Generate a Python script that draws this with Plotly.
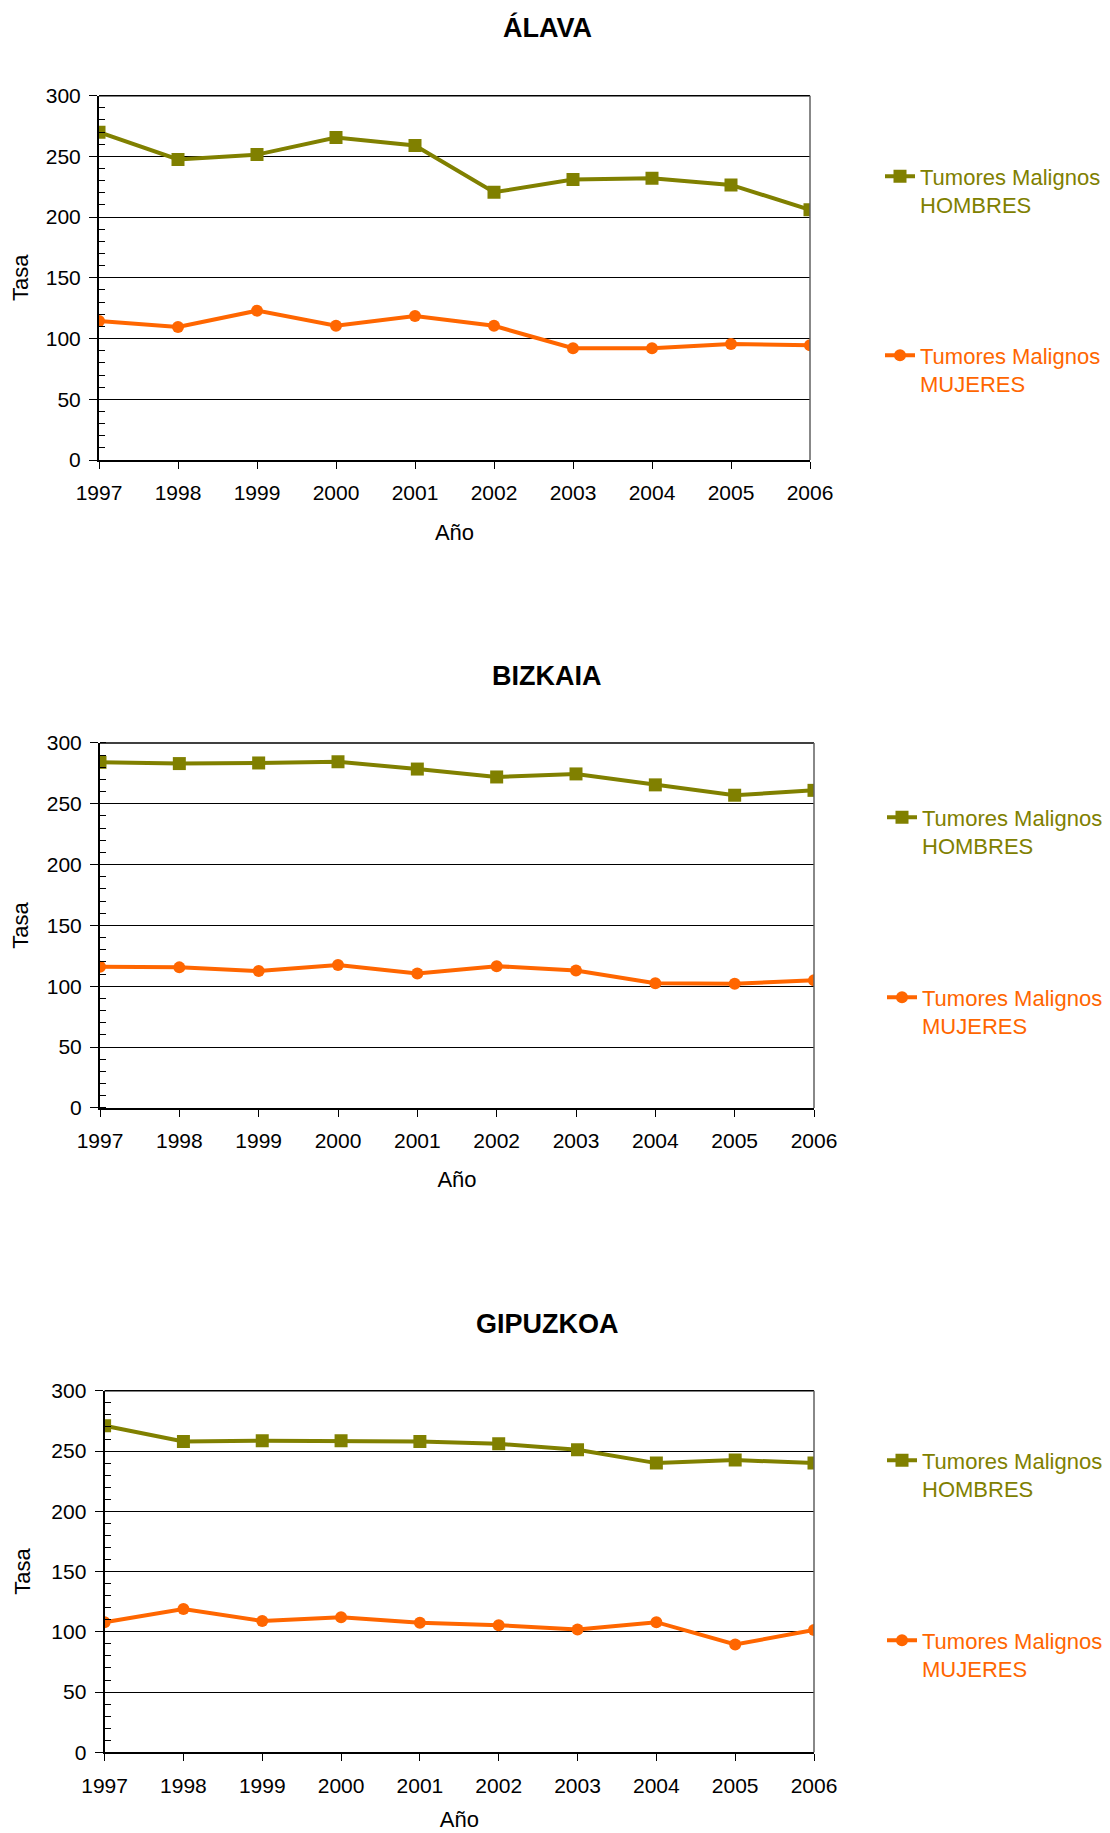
import plotly.graph_objects as go

# ---------------- data ----------------
years = [1997, 1998, 1999, 2000, 2001, 2002, 2003, 2004, 2005, 2006]
year_labels = ["1997", "1998", "1999", "2000", "2001", "2002", "2003", "2004", "2005", "2006"]

alava_hombres = [270, 247.5, 251.5, 265.5, 259, 220.5, 231, 232, 226.5, 206]
alava_mujeres = [114.5, 109.5, 123, 110.5, 118.5, 110.5, 92, 92, 95.5, 94.5]

bizkaia_hombres = [284, 283, 283.5, 284.5, 278.5, 272, 274.5, 265.5, 257, 261]
bizkaia_mujeres = [116, 115.5, 112.5, 117.5, 110.5, 116.5, 113, 102.5, 102, 105]

gipuzkoa_hombres = [271, 258, 258.5, 258.5, 258, 256, 251, 240, 242.5, 240]
gipuzkoa_mujeres = [108, 119, 109, 112, 107.5, 105.5, 102, 108, 89.5, 101.5]

titles = ["ÁLAVA", "BIZKAIA", "GIPUZKOA"]
name_h = "Tumores Malignos<br>HOMBRES"
name_m = "Tumores Malignos<br>MUJERES"
y_ticks = [0, 50, 100, 150, 200, 250, 300]

OLIVE = "#808000"
ORANGE = "#FF6600"
FONT = "Liberation Sans, Arial, sans-serif"

W, H = 1110, 1833
OFF = 8  # page body margin in the browser

# plot-area screen-pixel boxes (left, right, top, bottom)
boxes = [(99, 810, 95.7, 460.0),
         (100, 814, 742.9, 1107.9),
         (104.6, 814, 1390.8, 1752.3)]
title_y = [28, 676, 1324]
title_x = 547
legend_first_line = [(176, 355), (817, 997), (1460, 1640)]
legend_text_x = [920, 922, 922]
xtitle_standoff = [21, 21, 16]


def px_x(v):
    return (v - OFF) / W


def px_y(v):
    return 1 - (v - OFF) / H


series = [(alava_hombres, alava_mujeres),
          (bizkaia_hombres, bizkaia_mujeres),
          (gipuzkoa_hombres, gipuzkoa_mujeres)]

fig = go.Figure()
layout = dict(width=W, height=H, margin=dict(l=0, r=0, t=0, b=0),
              paper_bgcolor="white", plot_bgcolor="white", showlegend=True,
              font=dict(family=FONT, color="black"), annotations=[], shapes=[])

for i, ((h_vals, m_vals), box) in enumerate(zip(series, boxes)):
    sfx = "" if i == 0 else str(i + 1)
    xa, ya = "x" + sfx, "y" + sfx
    lg_h = "legend" if i == 0 else "legend" + str(2 * i + 1)
    lg_m = "legend" + str(2 * i + 2)

    fig.add_trace(go.Scatter(x=years, y=h_vals, name=name_h, mode="lines+markers",
                             line=dict(color=OLIVE, width=4),
                             marker=dict(symbol="square", size=13, color=OLIVE),
                             xaxis=xa, yaxis=ya, legend=lg_h, showlegend=True))
    fig.add_trace(go.Scatter(x=years, y=m_vals, name=name_m, mode="lines+markers",
                             line=dict(color=ORANGE, width=4),
                             marker=dict(symbol="circle", size=12, color=ORANGE),
                             xaxis=xa, yaxis=ya, legend=lg_m, showlegend=True))

    l, r, t, b = box
    layout["xaxis" + sfx] = dict(
        domain=[px_x(l), px_x(r)], anchor=ya, range=[1997, 2006],
        tickmode="array", tickvals=years, ticktext=year_labels,
        ticks="outside", ticklen=7, tickcolor="black", tickwidth=1,
        showline=True, linecolor="black", linewidth=2, showgrid=False,
        zeroline=False, automargin=False, ticklabelstandoff=6,
        tickfont=dict(family=FONT, size=21, color="black"),
        title=dict(text="Año", font=dict(family=FONT, size=22, color="black"),
                   standoff=xtitle_standoff[i]))
    layout["yaxis" + sfx] = dict(
        domain=[px_y(b), px_y(t)], anchor=xa, range=[0, 300],
        tickmode="array", tickvals=y_ticks,
        ticks="outside", ticklen=8, tickcolor="black", tickwidth=1,
        minor=dict(ticks="inside", ticklen=6, dtick=10, tick0=0, tickcolor="black", showgrid=False),
        showline=True, linecolor="black", linewidth=2,
        showgrid=True, gridcolor="black", gridwidth=1, zeroline=False, automargin=False,
        ticklabelstandoff=4,
        tickfont=dict(family=FONT, size=21, color="black"),
        title=dict(text="Tasa", font=dict(family=FONT, size=22, color="black"), standoff=15))

    # top (black) and right (grey) border of plot area
    layout["shapes"].append(dict(type="line", xref=xa + " domain", yref=ya + " domain",
                                 x0=0, x1=1, y0=1, y1=1, line=dict(color="black", width=1.5)))
    layout["shapes"].append(dict(type="line", xref=xa + " domain", yref=ya + " domain",
                                 x0=1, x1=1, y0=0, y1=1, line=dict(color="#606060", width=1.5)))

    layout["annotations"].append(dict(text="<b>" + titles[i] + "</b>", xref="paper", yref="paper",
                                      x=px_x(title_x), y=px_y(title_y[i]), showarrow=False,
                                      xanchor="center", yanchor="middle",
                                      font=dict(family=FONT, size=27, color="black")))

    for lg, first_y, col in ((lg_h, legend_first_line[i][0], OLIVE),
                             (lg_m, legend_first_line[i][1], ORANGE)):
        layout[lg] = dict(x=px_x(legend_text_x[i] - 40), y=px_y(first_y - 20.5),
                          xanchor="left", yanchor="top", valign="top", visible=True,
                          bgcolor="rgba(0,0,0,0)", borderwidth=0,
                          font=dict(family=FONT, size=22, color=col))

fig.update_layout(**layout)
fig.write_html("out.html")
